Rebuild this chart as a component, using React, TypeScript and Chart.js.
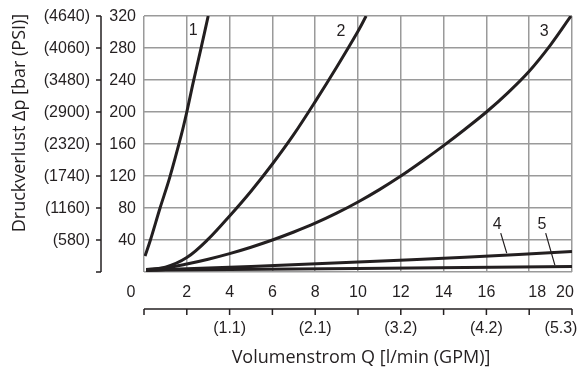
import React, { useEffect, useRef } from "react";
import { Chart, registerables } from "chart.js";
Chart.register(...registerables);

// ---- data ----
const flowTicks = [0, 2, 4, 6, 8, 10, 12, 14, 16, 18, 20];
const flowTickLabels = ["0", "2", "4", "6", "8", "10", "12", "14", "16", "18", "20"];
const gpmTickValues = [4, 8, 12, 16, 20];
const gpmLabels = ["(1.1)", "(2.1)", "(3.2)", "(4.2)", "(5.3)"];
const pressureTicks = [40, 80, 120, 160, 200, 240, 280, 320];
const barLabels = ["40", "80", "120", "160", "200", "240", "280", "320"];
const psiLabels = ["(580)", "(1160)", "(1740)", "(2320)", "(2900)", "(3480)", "(4060)", "(4640)"];

const curve1X = [0.05, 0.3, 0.75, 1.2, 1.75, 2.0, 2.3, 2.65, 3.0];
const curve1Y = [20, 40, 80, 118, 172, 200, 237, 278, 320];
const curve2X = [0.1, 1, 2, 3, 4, 5, 6, 7, 8, 9, 10, 10.38];
const curve2Y = [3, 6, 18, 41, 70, 101, 135, 172, 213, 256, 301, 320];
const curve3X = [0.1, 1, 2, 3, 4, 5, 6, 7, 8, 9, 10, 11, 12, 13, 14, 15, 16, 17, 18, 19, 19.95];
const curve3Y = [3, 5, 10, 16, 23, 31, 40, 50, 61, 73.5, 87.5, 103, 120, 138.5, 158, 178.5, 200, 224, 251, 284, 320];
const curve4X = [0.1, 1, 5, 10, 15, 20];
const curve4Y = [2, 3, 7, 12.5, 18.5, 25.5];
const curve5X = [0.1, 1, 10, 20];
const curve5Y = [2, 2.5, 4.5, 7];

const curveNames = ["1", "2", "3", "4", "5"];
const curveLabelX = [2.3, 9.2, 18.7, 16.5, 18.6];
const curveLabelY = [302, 301, 300, 59, 59];
const leaderFromX = [16.67, 18.77];
const leaderFromY = [48.5, 48.5];
const leaderToX = [16.95, 19.2];
const leaderToY = [23.5, 8.5];

const INK = "#231f20";
const GRID = "#9a9a9a";
const TICK_FONT = "16px 'Liberation Sans', Arial, sans-serif";
const TITLE_FONT = "18px 'Open Sans', sans-serif";

const toPoints = (xs: number[], ys: number[]) => xs.map((x, i) => ({ x, y: ys[i] }));

const decorPlugin = {
  id: "decor",
  afterDraw(chart: any) {
    const ctx: CanvasRenderingContext2D = chart.ctx;
    const xs = chart.scales.x;
    const ys = chart.scales.y;
    ctx.save();
    ctx.fillStyle = INK;
    ctx.strokeStyle = INK;

    // secondary y axis line + ticks
    const axX = 101;
    ctx.lineWidth = 1.5;
    ctx.beginPath();
    ctx.moveTo(axX, ys.getPixelForValue(320));
    ctx.lineTo(axX, ys.getPixelForValue(0));
    ctx.stroke();
    ctx.beginPath();
    [0, ...pressureTicks].forEach((v) => {
      const py = ys.getPixelForValue(v);
      ctx.moveTo(axX - 5, py);
      ctx.lineTo(axX, py);
    });
    ctx.stroke();

    ctx.font = TICK_FONT;
    ctx.textBaseline = "middle";
    ctx.textAlign = "right";
    pressureTicks.forEach((v, i) => {
      const py = ys.getPixelForValue(v);
      ctx.fillText(barLabels[i], 136, py + 1);
      ctx.fillText(psiLabels[i], 90, py + 1);
    });

    // secondary x axis line + ticks
    const axY = 309;
    ctx.beginPath();
    ctx.moveTo(xs.getPixelForValue(0), axY);
    ctx.lineTo(xs.getPixelForValue(20), axY);
    ctx.stroke();
    ctx.beginPath();
    flowTicks.forEach((v) => {
      const px = xs.getPixelForValue(v);
      ctx.moveTo(px, axY);
      ctx.lineTo(px, axY + 6);
    });
    ctx.stroke();

    ctx.textAlign = "center";
    const shift: Record<number, number> = { 0: -13, 18: 8, 20: -7 };
    flowTicks.forEach((v, i) => {
      const px = xs.getPixelForValue(v) + (shift[v] || 0);
      ctx.fillText(flowTickLabels[i], px, 293);
    });
    gpmTickValues.forEach((v, i) => {
      let px = xs.getPixelForValue(v);
      if (v === 20) px -= 11;
      ctx.fillText(gpmLabels[i], px, 329);
    });

    // titles
    ctx.font = TITLE_FONT;
    ctx.fillText("Volumenstrom Q [l/min (GPM)]", 361, 358);
    ctx.save();
    ctx.translate(20, 123);
    ctx.rotate(-Math.PI / 2);
    ctx.fillText("Druckverlust Δp [bar (PSI)]", 0, 0);
    ctx.restore();

    // curve labels
    ctx.font = TICK_FONT;
    curveNames.forEach((n, i) => {
      ctx.fillText(n, xs.getPixelForValue(curveLabelX[i]), ys.getPixelForValue(curveLabelY[i]));
    });
    ctx.lineWidth = 1.2;
    ctx.beginPath();
    leaderFromX.forEach((x, i) => {
      ctx.moveTo(xs.getPixelForValue(x), ys.getPixelForValue(leaderFromY[i]));
      ctx.lineTo(xs.getPixelForValue(leaderToX[i]), ys.getPixelForValue(leaderToY[i]));
    });
    ctx.stroke();
    ctx.restore();
  },
};

export default function App() {
  const ref = useRef<HTMLCanvasElement | null>(null);
  useEffect(() => {
    if (!ref.current) return;
    const series = [
      [curve1X, curve1Y],
      [curve2X, curve2Y],
      [curve3X, curve3Y],
      [curve4X, curve4Y],
      [curve5X, curve5Y],
    ];
    const chart = new Chart(ref.current, {
      type: "line",
      data: {
        datasets: series.map(([xs, ys], i) => ({
          label: curveNames[i],
          data: toPoints(xs, ys),
          borderColor: INK,
          borderWidth: 3,
          pointRadius: 0,
          fill: false,
          tension: 0.35,
        })),
      },
      options: {
        responsive: false,
        animation: false,
        devicePixelRatio: 1,
        layout: { padding: { left: 144, right: 6, top: 16, bottom: 97 } },
        plugins: { legend: { display: false }, tooltip: { enabled: false } },
        scales: {
          x: {
            type: "linear",
            min: 0,
            max: 20,
            ticks: { display: false, stepSize: 2 },
            grid: { color: GRID, lineWidth: 1.5, drawTicks: false },
            border: { display: false },
          },
          y: {
            type: "linear",
            min: 0,
            max: 320,
            ticks: { display: false, stepSize: 40 },
            grid: { color: GRID, lineWidth: 1.5, drawTicks: false },
            border: { display: false },
          },
        },
      },
      plugins: [decorPlugin],
    });
    return () => chart.destroy();
  }, []);
  return (
    <div style={{ position: "fixed", left: 0, top: 0, width: 578, height: 369, background: "#fff" }}>
      <canvas ref={ref} width={578} height={369} style={{ display: "block" }} />
    </div>
  );
}
